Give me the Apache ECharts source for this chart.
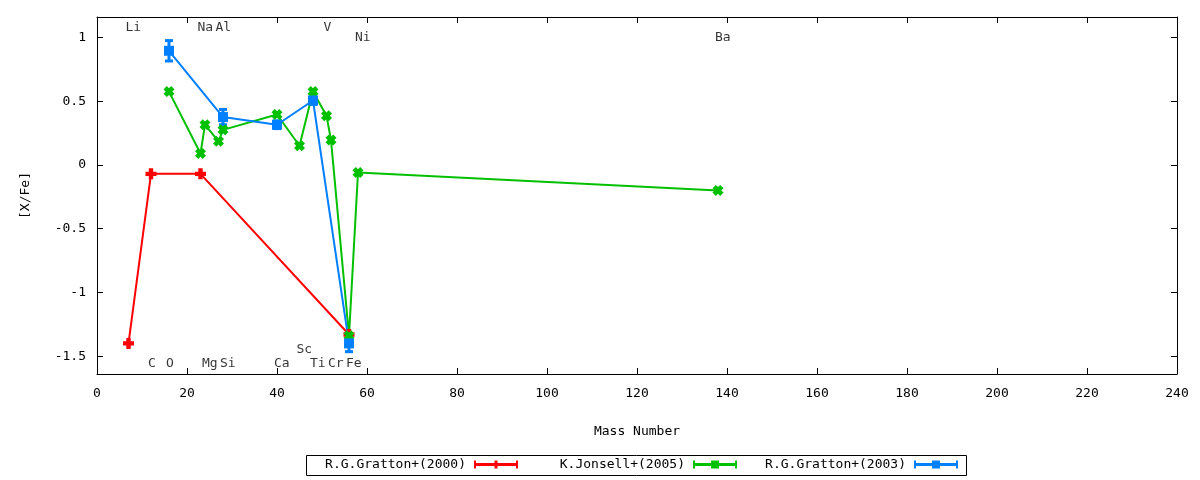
<!DOCTYPE html>
<html>
<head>
<meta charset="utf-8">
<script src="https://cdn.jsdelivr.net/npm/echarts@6/dist/echarts.min.js"></script>
<style>
  html, body { margin: 0; padding: 0; background: #fff; }
  #chart { width: 1200px; height: 480px; }
</style>
</head>
<body>
<div id="chart"></div>
<script>
// R.G.Gratton+(2000): Li, C, Na, Fe
const g2000Mass = [7, 12, 23, 56]
const g2000Val = [-1.40, -0.07, -0.07, -1.33]

// K.Jonsell+(2005): O, Na, Mg, Al, Si, Ca, Sc, Ti, V, Cr, Fe, Ni, Ba
const j2005Mass = [16, 23, 24, 27, 28, 40, 45, 48, 51, 52, 56, 58, 138]
const j2005Val = [0.575, 0.09, 0.315, 0.185, 0.275, 0.395, 0.15, 0.575, 0.385, 0.195, -1.34, -0.06, -0.20]

// R.G.Gratton+(2003): O, Si, Ca, Ti, Fe (with errors)
const g2003Mass = [16, 28, 40, 48, 56]
const g2003Val = [0.895, 0.375, 0.315, 0.505, -1.40]
const g2003Err = [0.08, 0.06, 0.03, 0.03, 0.065]

// element labels
const elemNames = ['Li', 'Na', 'Al', 'V', 'Ni', 'Ba', 'C', 'O', 'Mg', 'Si', 'Ca', 'Sc', 'Ti', 'Cr', 'Fe']
const elemMass = [7, 23, 27, 51, 58, 138, 12, 16, 24, 28, 40, 45, 48, 52, 56]
const elemY = [1.08, 1.08, 1.08, 1.08, 1.0, 1.0, -1.555, -1.555, -1.555, -1.555, -1.555, -1.445, -1.555, -1.555, -1.555]

const yTicks = [-1.5, -1, -0.5, 0, 0.5, 1]

const FONT = 'DejaVu Sans Mono'
const RED = '#ff0000'
const GREEN = '#00c000'
const BLUE = '#0080ff'

const plusPath = 'path://M3,0h4v3h3v4h-3v3h-4v-3h-3v-4h3z'
const crossPath = 'path://M0,3L3,0L5,2L7,0L10,3L8,5L10,7L7,10L5,8L3,10L0,7L2,5Z'

const capBar = 'M0,0h2v8h-2zM42,0h2v8h-2zM0,2.5h44v3h-44z'
const legendIcons = {
  red: 'path://' + capBar + 'M20.5,0h3v8h-3z',
  green: 'path://' + capBar + 'M18,0h8v8h-8z',
  blue: 'path://' + capBar + 'M18,0h8v8h-8z',
}

const pairs = (xs, ys) => xs.map((x, i) => [x, ys[i]])

const axisCommon = {
  axisLine: { onZero: false, lineStyle: { color: '#000', width: 1 } },
  axisTick: { inside: true, length: 6, lineStyle: { color: '#000' } },
  splitLine: { show: false },
}

const legendBase = {
  top: 458,
  orient: 'horizontal',
  align: 'right',
  itemWidth: 44,
  itemHeight: 8,
  padding: 0,
  textStyle: { fontFamily: FONT, fontSize: 13, color: '#000', padding: [2, 3, 0, 0] },
  selectedMode: false,
}

const chart = echarts.init(document.getElementById('chart'))
chart.setOption({
  animation: false,
  backgroundColor: '#fff',
  grid: { left: 97, right: 23, top: 17, bottom: 106 },
  xAxis: [
    {
      ...axisCommon,
      type: 'value',
      min: 0,
      max: 240,
      interval: 20,
      name: 'Mass Number',
      nameLocation: 'middle',
      nameGap: 51,
      nameTextStyle: { fontFamily: FONT, fontSize: 13, color: '#000' },
      axisLabel: { fontFamily: FONT, fontSize: 13, color: '#000', margin: 13 },
    },
    {
      ...axisCommon,
      type: 'value',
      position: 'top',
      min: 0,
      max: 240,
      interval: 20,
      axisLabel: { show: false },
    },
  ],
  yAxis: [
    {
      ...axisCommon,
      type: 'value',
      min: -1.64,
      max: 1.16,
      axisTick: { ...axisCommon.axisTick, customValues: yTicks },
      name: '[X/Fe]',
      nameLocation: 'middle',
      nameGap: 65,
      nameTextStyle: { fontFamily: FONT, fontSize: 13, color: '#000' },
      axisLabel: { fontFamily: FONT, fontSize: 13, color: '#000', margin: 11, customValues: yTicks },
    },
    {
      ...axisCommon,
      type: 'value',
      position: 'right',
      min: -1.64,
      max: 1.16,
      axisTick: { ...axisCommon.axisTick, customValues: yTicks },
      axisLabel: { show: false, customValues: yTicks },
    },
  ],
  legend: [
    { ...legendBase, right: 682, data: [{ name: 'R.G.Gratton+(2000)', icon: legendIcons.red }] },
    { ...legendBase, right: 463, data: [{ name: 'K.Jonsell+(2005)', icon: legendIcons.green }] },
    { ...legendBase, right: 242, data: [{ name: 'R.G.Gratton+(2003)', icon: legendIcons.blue }] },
  ],
  graphic: [
    {
      type: 'rect',
      shape: { x: 306.5, y: 455.5, width: 660, height: 20 },
      style: { fill: 'none', stroke: '#000', lineWidth: 1 },
      silent: true,
    },
  ],
  series: [
    {
      name: 'R.G.Gratton+(2000)',
      type: 'line',
      data: pairs(g2000Mass, g2000Val),
      color: RED,
      symbol: plusPath,
      symbolSize: 11,
      lineStyle: { width: 2, color: RED },
      itemStyle: { color: RED },
    },
    {
      name: 'K.Jonsell+(2005)',
      type: 'line',
      data: pairs(j2005Mass, j2005Val),
      color: GREEN,
      symbol: crossPath,
      symbolSize: 11,
      lineStyle: { width: 2, color: GREEN },
      itemStyle: { color: GREEN },
    },
    {
      name: 'R.G.Gratton+(2003)',
      type: 'line',
      data: pairs(g2003Mass, g2003Val),
      color: BLUE,
      symbol: 'rect',
      symbolSize: 10,
      lineStyle: { width: 2, color: BLUE },
      itemStyle: { color: BLUE },
    },
    {
      name: 'R.G.Gratton+(2003) err',
      type: 'custom',
      data: g2003Mass.map((m, i) => [m, g2003Val[i], g2003Err[i]]),
      renderItem: (params, api) => {
        const x = api.value(0)
        const y = api.value(1)
        const e = api.value(2)
        const top = api.coord([x, y + e])
        const bot = api.coord([x, y - e])
        const style = { stroke: BLUE, lineWidth: 3 }
        return {
          type: 'group',
          children: [
            { type: 'line', shape: { x1: top[0], y1: top[1], x2: bot[0], y2: bot[1] }, style },
            { type: 'line', shape: { x1: top[0] - 4, y1: top[1], x2: top[0] + 4, y2: top[1] }, style },
            { type: 'line', shape: { x1: bot[0] - 4, y1: bot[1], x2: bot[0] + 4, y2: bot[1] }, style },
          ],
        }
      },
      z: 3,
      silent: true,
    },
    {
      name: 'elements',
      type: 'scatter',
      data: elemMass.map((m, i) => [m, elemY[i], elemNames[i]]),
      symbolSize: 0,
      silent: true,
      label: {
        show: true,
        formatter: (p) => p.data[2],
        position: 'inside',
        align: 'left',
        verticalAlign: 'middle',
        offset: [-3, 0],
        fontFamily: FONT,
        fontSize: 13,
        color: '#000',
      },
    },
  ],
})
</script>
</body>
</html>
